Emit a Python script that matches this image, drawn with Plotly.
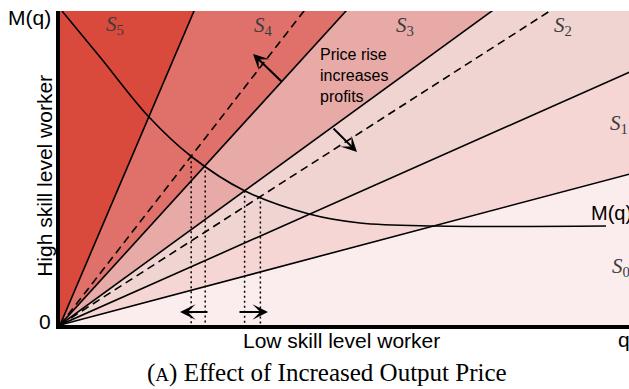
import numpy as np
import plotly.graph_objects as go

# ---------------- data ----------------
region_names = ["S5", "S4", "S3", "S2", "S1", "S0"]
region_colors = ["#d94a3d", "#e0716a", "#e8aaa6", "#efd4d1", "#f6d6d4", "#fbeded"]
# slopes of the solid rays separating successive regions (S5|S4, S4|S3, S3|S2, S2|S1, S1|S0)
boundary_slopes = [2.343, 1.098, 0.727, 0.444, 0.265]
# slopes of the dashed (shifted after price rise) rays
shifted_slopes = [1.287, 0.641]

# M(q) curve
curve_q = [0.2, 4.0, 8.9, 13.2, 18.5, 24.9, 30.0, 37.5, 54.6]
curve_m = [31.4, 26.8, 20.8, 16.8, 13.4, 11.1, 10.2, 9.9, 9.9]

# rays whose intersection with M(q) is dropped to the q axis
drop_slopes = [1.287, 1.098, 0.727, 0.641]

# label positions for regions (q, M)
region_label_q = [5.5, 20.3, 34.5, 50.3, 54.8, 55.0]
region_label_m = [30.0, 29.9, 29.9, 29.9, 20.1, 5.8]
region_label_anchor = ["center", "center", "center", "center", "left", "left"]

X_MAX, Y_MAX = 56.9, 31.4

fig = go.Figure()

# ---------------- wedges ----------------
angles = [np.pi / 2] + [np.arctan(s) for s in boundary_slopes] + [0.0]
R = 500.0
for i, col in enumerate(region_colors):
    a_hi, a_lo = angles[i], angles[i + 1]
    th = np.linspace(a_hi, a_lo, 30)
    xs = np.concatenate([[0], R * np.cos(th), [0]])
    ys = np.concatenate([[0], R * np.sin(th), [0]])
    fig.add_trace(go.Scatter(x=xs, y=ys, fill="toself", fillcolor=col, mode="lines",
                             line=dict(width=0, color=col), hoverinfo="skip", showlegend=False))

# ---------------- rays ----------------
for s in boundary_slopes:
    fig.add_trace(go.Scatter(x=[0, R], y=[0, s * R], mode="lines",
                             line=dict(color="black", width=1.6), showlegend=False, hoverinfo="skip"))
for s in shifted_slopes:
    fig.add_trace(go.Scatter(x=[0, R], y=[0, s * R], mode="lines",
                             line=dict(color="black", width=1.6, dash="8px,5px"),
                             showlegend=False, hoverinfo="skip"))

# ---------------- M(q) curve ----------------
fig.add_trace(go.Scatter(x=curve_q, y=curve_m, mode="lines",
                         line=dict(color="black", width=1.6, shape="spline", smoothing=1.0),
                         showlegend=False, hoverinfo="skip"))

# ---------------- dotted drops ----------------
qq = np.linspace(curve_q[0], curve_q[-1], 5000)
mm = np.interp(qq, curve_q, curve_m)
for s in drop_slopes:
    idx = np.argmin(np.abs(mm - s * qq))
    q0, m0 = qq[idx], mm[idx]
    fig.add_trace(go.Scatter(x=[q0, q0], y=[m0, 0], mode="lines",
                             line=dict(color="black", width=1.5, dash="2px,3px"),
                             showlegend=False, hoverinfo="skip"))

# ---------------- annotations ----------------
ann = []
for name, q, m, anc in zip(region_names, region_label_q, region_label_m, region_label_anchor):
    ann.append(dict(x=q, y=m, xref="x", yref="y", xanchor=anc, yanchor="middle",
                    text="<i>S</i><sub>%s</sub>" % name[1:], showarrow=False,
                    font=dict(family="Liberation Serif", size=21, color="#3c3c3c")))

for txt, y in zip(["Price rise", "increases", "profits"], [27.1, 25.0, 22.9]):
    ann.append(dict(x=25.8, y=y, xref="x", yref="y", xanchor="left", yanchor="middle",
                    text=txt, showarrow=False,
                    font=dict(family="Liberation Sans", size=16, color="black")))

ann.append(dict(x=52.9, y=11.2, xref="x", yref="y", xanchor="left", yanchor="middle",
                text="M(q)", showarrow=False,
                font=dict(family="Liberation Sans", size=20, color="black")))

# arrows: (tail_q, tail_m, head_q, head_m)
arrows = [(22.3, 24.2, 19.3, 27.1), (27.2, 19.8, 29.7, 17.3),
          (14.9, 1.3, 12.0, 1.3), (17.8, 1.3, 20.8, 1.3)]
for tq, tm, hq, hm in arrows:
    ann.append(dict(x=hq, y=hm, ax=tq, ay=tm, xref="x", yref="y", axref="x", ayref="y",
                    text="", showarrow=True, arrowhead=3, arrowsize=1.3, arrowwidth=2,
                    arrowcolor="black", standoff=0, startstandoff=0))

sans = dict(family="Liberation Sans", size=21, color="black")
ann += [
    dict(x=-0.012, y=0.978, xref="paper", yref="paper", xanchor="right", yanchor="middle",
         text="M(q)", showarrow=False, font=sans),
    dict(x=-0.013, y=0.01, xref="paper", yref="paper", xanchor="right", yanchor="middle",
         text="0", showarrow=False, font=sans),
    dict(x=-0.027, y=0.474, xref="paper", yref="paper", xanchor="center", yanchor="middle",
         text="High skill level worker", textangle=-90, showarrow=False, font=sans),
    dict(x=0.4947, y=-0.048, xref="paper", yref="paper", xanchor="center", yanchor="middle",
         text="Low skill level worker", showarrow=False, font=sans),
    dict(x=0.978, y=-0.045, xref="paper", yref="paper", xanchor="left", yanchor="middle",
         text="q", showarrow=False, font=sans),
    dict(x=0.469, y=-0.152, xref="paper", yref="paper", xanchor="center", yanchor="middle",
         text="(<span style='font-size:19px'>A</span>) Effect of Increased Output Price",
         showarrow=False, font=dict(family="Liberation Serif", size=25, color="black")),
]

fig.update_layout(
    width=629, height=389,
    margin=dict(l=60, r=0, t=11, b=64),
    paper_bgcolor="white", plot_bgcolor="white",
    annotations=ann,
    xaxis=dict(range=[0, X_MAX], showgrid=False, zeroline=False, showticklabels=False,
               ticks="", showline=True, linewidth=3.5, linecolor="black", fixedrange=True),
    yaxis=dict(range=[0, Y_MAX], showgrid=False, zeroline=False, showticklabels=False,
               ticks="", showline=True, linewidth=3.5, linecolor="black", fixedrange=True),
)

fig.write_html("out.html", config={"displayModeBar": False},
               post_script="document.body.style.margin='0';document.body.style.overflow='hidden';")
